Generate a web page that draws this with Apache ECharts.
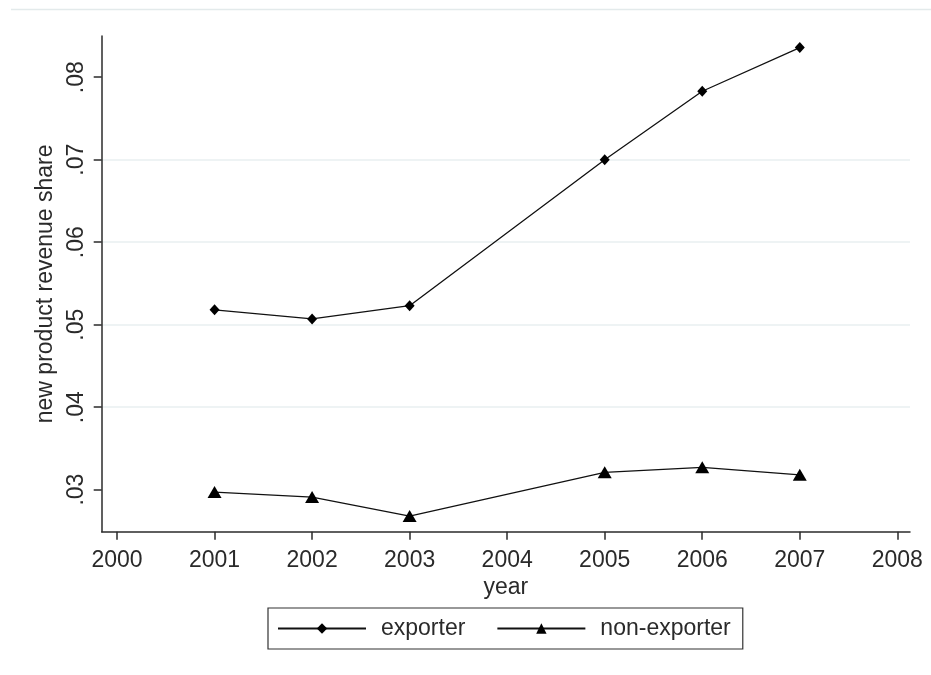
<!DOCTYPE html>
<html>
<head>
<meta charset="utf-8">
<style>
  html, body { margin: 0; padding: 0; background: #fff; }
  #chart { width: 931px; height: 675px; }
</style>
<script src="https://cdn.jsdelivr.net/npm/echarts@6/dist/echarts.min.js"></script>
</head>
<body>
<div id="chart"></div>
<script>
// Survey years and mean share of revenue from new products
const years = [2001, 2002, 2003, 2005, 2006, 2007];
const exporter = [0.0518, 0.0507, 0.0523, 0.0700, 0.0783, 0.0836];
const nonExporter = [0.0297, 0.0291, 0.0268, 0.0321, 0.0327, 0.0318];

// Axis ticks
const xTicks = [2000, 2001, 2002, 2003, 2004, 2005, 2006, 2007, 2008];
const yTicks = [0.03, 0.04, 0.05, 0.06, 0.07, 0.08];

const FONT = '"Liberation Sans", Arial, Helvetica, sans-serif';
const INK = '#2a2a2a';

const chart = echarts.init(document.getElementById('chart'), null, { renderer: 'canvas' });

const pairs = (ys) => years.map((y, i) => [y, ys[i]]);

chart.setOption({
  animation: false,
  backgroundColor: '#fff',
  textStyle: { fontFamily: FONT },
  graphic: [{
    type: 'line',
    shape: { x1: 11, y1: 9.5, x2: 931, y2: 9.5 },
    style: { stroke: '#e3eaeb', lineWidth: 1.5 },
    silent: true
  }],
  grid: { left: 101.7, right: 21, top: 36, bottom: 143.3 },
  xAxis: {
    type: 'value',
    min: 1999.843,
    max: 2008.13,
    name: 'year',
    nameLocation: 'middle',
    nameGap: 36,
    nameTextStyle: { fontSize: 23, color: INK, fontFamily: FONT },
    axisLine: { show: true, onZero: false, lineStyle: { color: '#2b2b2b', width: 1.5 } },
    axisTick: { show: true, customValues: xTicks, length: 8, lineStyle: { color: '#2b2b2b', width: 1.5 } },
    axisLabel: {
      customValues: xTicks,
      margin: 17,
      fontSize: 23,
      color: INK,
      fontFamily: FONT,
      formatter: (v) => String(Math.round(v))
    },
    splitLine: { show: false }
  },
  yAxis: {
    type: 'value',
    min: 0.0249,
    max: 0.085,
    minInterval: 0.01,
    maxInterval: 0.01,
    name: 'new product revenue share',
    nameLocation: 'middle',
    nameGap: 40,
    nameRotate: 90,
    nameTextStyle: { fontSize: 23, color: INK, fontFamily: FONT },
    axisLine: { show: true, onZero: false, lineStyle: { color: '#2b2b2b', width: 1.5 } },
    axisTick: { show: true, customValues: yTicks, length: 8, lineStyle: { color: '#2b2b2b', width: 1.5 } },
    axisLabel: {
      customValues: yTicks,
      rotate: 90,
      margin: 14,
      fontSize: 23,
      color: INK,
      fontFamily: FONT,
      formatter: (v) => v.toFixed(2).replace(/^0/, '')
    },
    splitLine: {
      show: true,
      showMinLine: false,
      showMaxLine: false,
      lineStyle: { color: '#e8eff1', width: 1.5 }
    }
  },
  legend: {
    left: 268,
    top: 608,
    orient: 'horizontal',
    borderColor: '#333',
    borderWidth: 1.2,
    padding: [9, 12, 9, 9],
    itemWidth: 88,
    itemHeight: 13,
    itemGap: 31,
    textStyle: { fontSize: 23, color: INK, fontFamily: FONT, padding: [0, 0, 0, 10] },
    data: [
      { name: 'exporter' },
      { name: 'non-exporter' }
    ]
  },
  series: [
    {
      name: 'exporter',
      type: 'line',
      data: pairs(exporter),
      symbol: 'diamond',
      symbolSize: [10, 11],
      lineStyle: { color: '#111', width: 1.3 },
      itemStyle: { color: '#000' }
    },
    {
      name: 'non-exporter',
      type: 'line',
      data: pairs(nonExporter),
      symbol: 'triangle',
      symbolSize: [14, 12],
      lineStyle: { color: '#111', width: 1.3 },
      itemStyle: { color: '#000' }
    }
  ]
});
</script>
</body>
</html>
